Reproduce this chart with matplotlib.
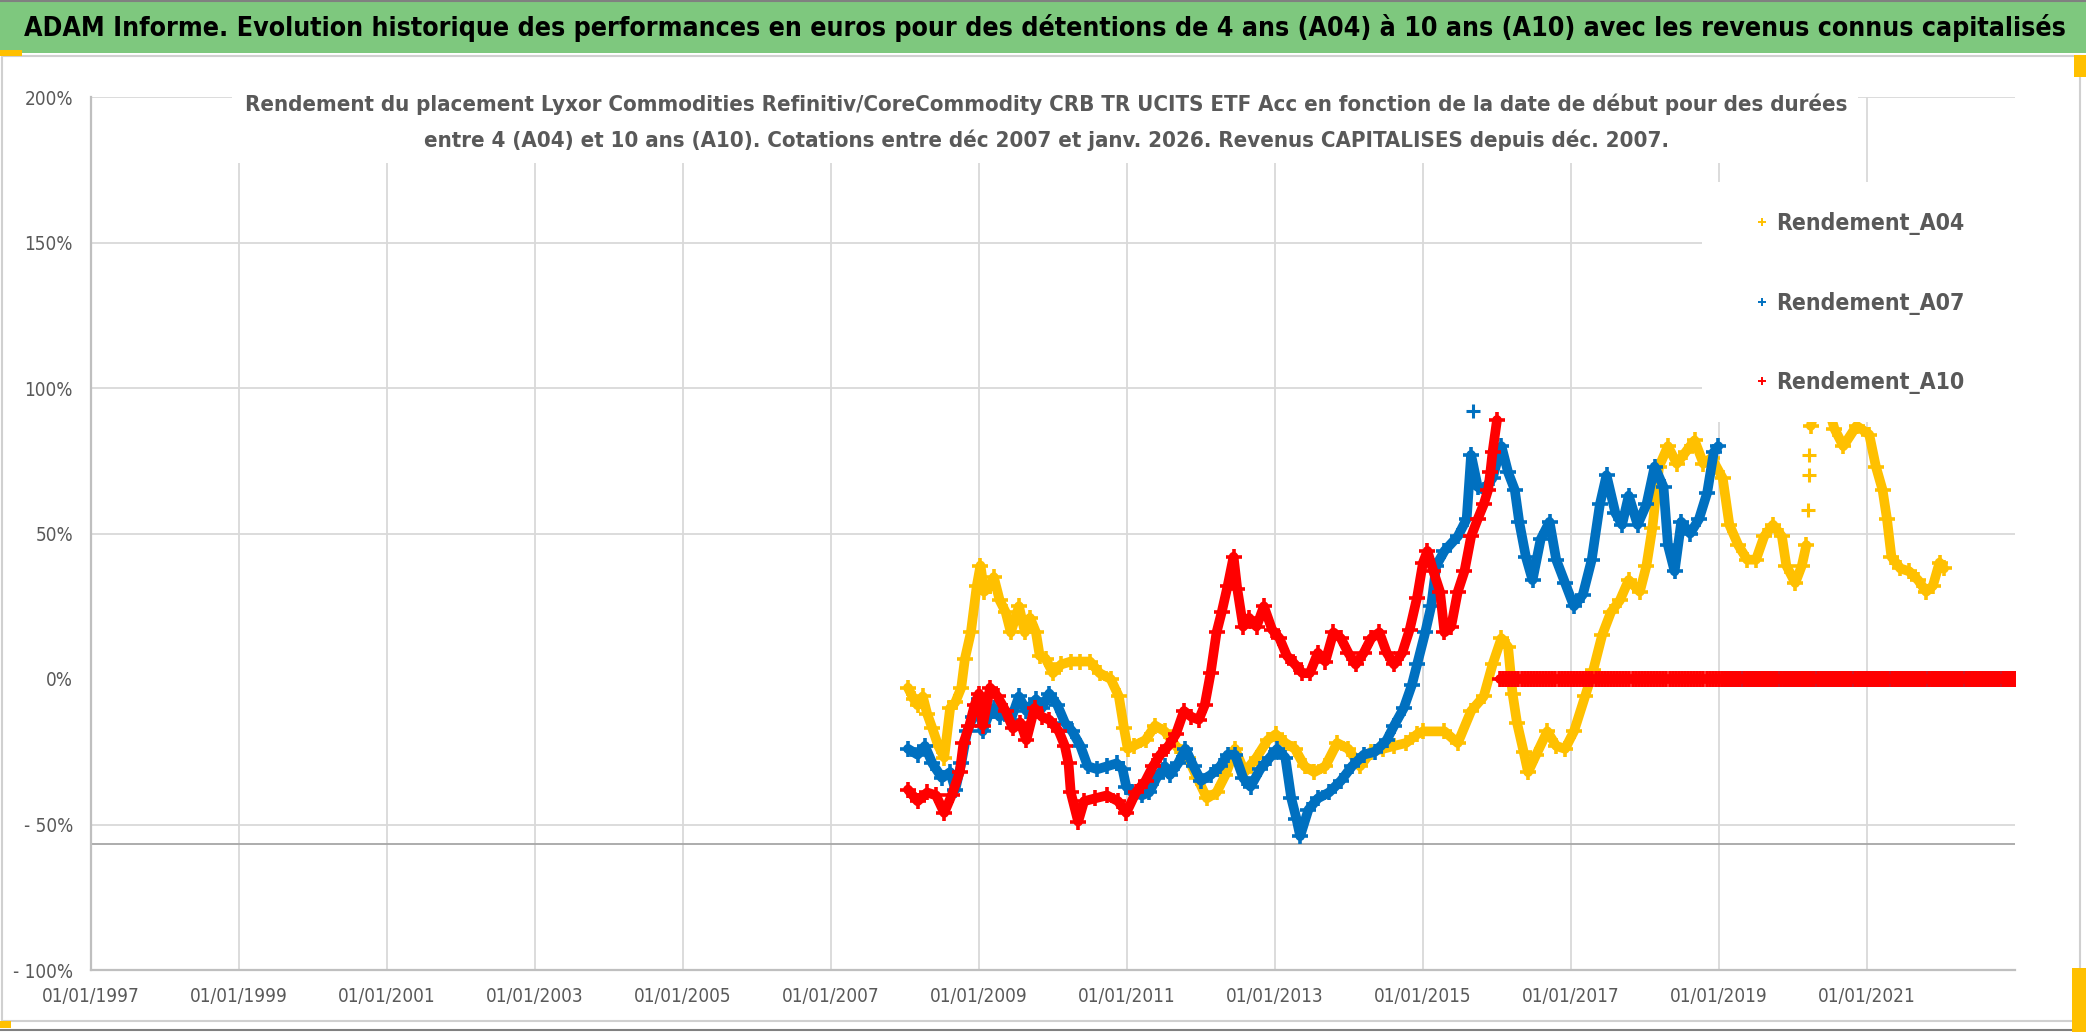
import numpy as np
import matplotlib
matplotlib.use('Agg')
import matplotlib.pyplot as plt
from matplotlib import font_manager as fm
from matplotlib.patches import Rectangle
from matplotlib.lines import Line2D

# ---- data (decimal year of start date, return in %) ----
a04_years = [2008.04, 2008.12, 2008.17, 2008.24, 2008.30, 2008.37, 2008.45, 2008.53, 2008.61, 2008.68,
             2008.76, 2008.81, 2008.89, 2008.97, 2009.02, 2009.07, 2009.15, 2009.20, 2009.28, 2009.36,
             2009.43, 2009.54, 2009.62, 2009.69, 2009.77, 2009.82, 2009.90, 2010.00, 2010.11, 2010.24,
             2010.37, 2010.50, 2010.63, 2010.78, 2010.89, 2010.96, 2011.01, 2011.09, 2011.25, 2011.38,
             2011.51, 2011.66, 2011.82, 2011.95, 2012.08, 2012.21, 2012.33, 2012.46, 2012.59, 2012.75,
             2012.90, 2013.01, 2013.14, 2013.27, 2013.40, 2013.53, 2013.68, 2013.84, 2013.99, 2014.15,
             2014.30, 2014.46, 2014.61, 2014.77, 2014.92, 2015.00, 2015.29, 2015.47, 2015.65, 2015.82,
             2015.94, 2016.06, 2016.15, 2016.21, 2016.27, 2016.36, 2016.42, 2016.53, 2016.68, 2016.80,
             2016.92, 2017.04, 2017.19, 2017.30, 2017.42, 2017.54, 2017.66, 2017.78, 2017.93, 2018.02,
             2018.10, 2018.19, 2018.31, 2018.43, 2018.55, 2018.67, 2018.79, 2018.90, 2019.05, 2019.14,
             2019.26, 2019.38, 2019.50, 2019.61, 2019.73, 2019.85, 2019.91, 2020.03, 2020.12, 2020.18]
a04_values = [-3, -7, -9, -6, -12, -17, -23, -27, -10, -8,
              -3, 7, 16, 32, 39, 30, 32, 35, 27, 23,
              16, 25, 16, 21, 16, 8, 7, 2, 5, 6,
              6, 6, 2, 0, -6, -17, -24, -23, -21, -16,
              -18, -23, -27, -34, -41, -39, -33, -24, -32, -27,
              -21, -19, -22, -24, -30, -32, -30, -22, -24, -30,
              -25, -24, -23, -22, -19, -18, -18, -22, -11, -6,
              5, 14, 11, -5, -15, -25, -32, -26, -18, -23,
              -24, -18, -6, 3, 15, 23, 27, 34, 30, 39,
              52, 73, 80, 74, 78, 82, 74, 76, 69, 53,
              46, 41, 41, 49, 53, 49, 39, 33, 39, 46]
# after a sparse jump, the band resumes high (partly behind the legend box)
a04b_years = [2020.24, 2020.32, 2020.40, 2020.48, 2020.56, 2020.68, 2020.86, 2021.03, 2021.12,
              2021.21, 2021.27, 2021.33, 2021.45, 2021.57, 2021.69, 2021.80, 2021.89, 2021.98, 2022.04]
a04b_values = [87, 95, 98, 93, 86, 80, 87, 84, 73,
               65, 55, 42, 38, 37, 34, 30, 32, 40, 38]
a04_sparse_years = [2020.20, 2020.21, 2020.22]
a04_sparse_values = [58, 70, 77]

a07_years = [2008.04, 2008.17, 2008.27, 2008.37, 2008.50, 2008.61, 2008.68, 2008.76, 2008.84, 2008.92,
             2009.00, 2009.05, 2009.12, 2009.20, 2009.28, 2009.36, 2009.43, 2009.54, 2009.64, 2009.77,
             2009.85, 2009.95, 2010.06, 2010.16, 2010.26, 2010.37, 2010.47, 2010.60, 2010.73, 2010.86,
             2010.94, 2010.99, 2011.07, 2011.20, 2011.30, 2011.40, 2011.51, 2011.58, 2011.69, 2011.79,
             2011.90, 2012.00, 2012.13, 2012.26, 2012.36, 2012.46, 2012.57, 2012.67, 2012.80, 2012.93,
             2013.03, 2013.14, 2013.22, 2013.29, 2013.34, 2013.45, 2013.58, 2013.73, 2013.89, 2014.04,
             2014.20, 2014.35, 2014.51, 2014.61, 2014.74, 2014.85, 2014.92, 2015.03, 2015.11, 2015.18,
             2015.29, 2015.47, 2015.59, 2015.65, 2015.74, 2015.82, 2015.94, 2016.06, 2016.15,
             2016.24, 2016.30, 2016.39, 2016.48, 2016.59, 2016.71, 2016.80, 2016.92, 2017.04, 2017.16,
             2017.28, 2017.39, 2017.48, 2017.60, 2017.69, 2017.78, 2017.90, 2018.02, 2018.13, 2018.25,
             2018.31, 2018.40, 2018.49, 2018.61, 2018.73, 2018.84, 2018.93, 2018.99]
a07_values = [-24, -26, -23, -29, -34, -32, -38, -29, -18, -13,
              -7, -18, -13, -10, -13, -11, -14, -6, -11, -7,
              -10, -5, -9, -15, -18, -23, -30, -31, -30, -29,
              -31, -37, -39, -40, -39, -34, -30, -33, -29, -24,
              -30, -35, -33, -30, -26, -26, -34, -37, -31, -27,
              -24, -27, -41, -48, -54, -45, -41, -39, -35, -30,
              -26, -25, -21, -16, -10, -2, 5, 16, 25, 39,
              44, 49, 55, 77, 66, 65, 69, 80, 71,
              65, 54, 42, 34, 48, 54, 41, 33, 25, 29,
              41, 60, 70, 57, 53, 63, 53, 60, 73, 66,
              46, 37, 54, 50, 55, 64, 78, 80]
# single isolated point above the A07 band
a07_outlier_years = [2015.68]
a07_outlier_values = [92]

a10_years = [2008.04, 2008.17, 2008.30, 2008.42, 2008.53, 2008.63, 2008.74, 2008.79, 2008.87, 2008.94,
             2009.00, 2009.05, 2009.15, 2009.25, 2009.36, 2009.46, 2009.56, 2009.64, 2009.75, 2009.85,
             2009.95, 2010.08, 2010.16, 2010.21, 2010.24, 2010.34, 2010.42, 2010.57, 2010.73, 2010.88,
             2010.99, 2011.12, 2011.25, 2011.35, 2011.45, 2011.56, 2011.66, 2011.77, 2011.87, 2011.97,
             2012.05, 2012.13, 2012.21, 2012.28, 2012.36, 2012.44, 2012.49, 2012.57, 2012.65, 2012.75,
             2012.85, 2012.96, 2013.06, 2013.16, 2013.27, 2013.37, 2013.47, 2013.58, 2013.68, 2013.79,
             2013.89, 2013.99, 2014.09, 2014.20, 2014.30, 2014.41, 2014.51, 2014.61, 2014.72, 2014.82,
             2014.92, 2015.00, 2015.06, 2015.14, 2015.23, 2015.29, 2015.38, 2015.47, 2015.56, 2015.65,
             2015.74, 2015.82, 2015.88, 2015.91, 2015.94, 2016.00]
a10_values = [-38, -42, -39, -40, -46, -40, -32, -22, -16, -9,
              -5, -16, -3, -6, -11, -17, -15, -21, -10, -13,
              -14, -18, -23, -29, -39, -49, -42, -41, -40, -42,
              -46, -39, -35, -30, -26, -23, -19, -11, -13, -14,
              -9, 2, 16, 23, 32, 42, 31, 18, 21, 18,
              25, 17, 14, 8, 5, 2, 2, 9, 6, 16,
              14, 9, 5, 9, 14, 16, 9, 5, 9, 17,
              28, 40, 44, 37, 30, 16, 18, 30, 37, 49,
              55, 60, 65, 71, 78, 89]

# start dates without a full holding period yet: return shown as 0
zero_start = {'A04': 2022.08, 'A07': 2019.08, 'A10': 2016.04}
zero_end = 2023.0

series_names = ['Rendement_A04', 'Rendement_A07', 'Rendement_A10']
colors = ['#FFC000', '#0070C0', '#FF0000']

x_ticks = list(range(1997, 2023, 2))
x_labels = ['01/01/%d' % y for y in x_ticks]
y_ticks = [-100, -50, 0, 50, 100, 150, 200]
y_labels = ['- 100%', '- 50%', '0%', '50%', '100%', '150%', '200%']

banner = ("ADAM Informe. Evolution historique des performances en euros pour des détentions "
          "de 4 ans (A04) à 10 ans (A10) avec les revenus connus capitalisés")
sub1 = ("Rendement du placement Lyxor Commodities Refinitiv/CoreCommodity CRB TR UCITS ETF Acc "
        "en fonction de la date de début pour des durées")
sub2 = ("entre 4 (A04) et 10 ans (A10). Cotations entre déc 2007 et janv. 2026. "
        "Revenus CAPITALISES depuis déc. 2007.")

# ---- fonts ----
entries = fm.fontManager.ttflist
names = {f.name for f in entries}
stretch = 'normal'
if 'Liberation Sans Narrow' in names:
    fam = ['Liberation Sans Narrow', 'DejaVu Sans']
elif any(f.name == 'DejaVu Sans' and f.stretch == 'condensed' for f in entries):
    fam = ['DejaVu Sans']
    stretch = 'condensed'
else:
    fam = ['Open Sans', 'DejaVu Sans']
plt.rcParams['font.family'] = fam
plt.rcParams['font.stretch'] = stretch

W, H = 2086, 1032
fig = plt.figure(figsize=(W / 100, H / 100), dpi=100)
renderer = fig.canvas.get_renderer()


def fx(x):
    return x / W


def fy(y):
    return 1 - y / H


def fit(t, width_px):
    w = t.get_window_extent(renderer).width
    t.set_fontsize(t.get_fontsize() * width_px / w)
    return t


def size_for(text, width_px, weight='normal'):
    t = fig.text(0, 0, text, fontsize=20, weight=weight)
    fit(t, width_px)
    s = t.get_fontsize()
    t.remove()
    return s


GRAY = '#595959'

# ---- frame, banner ----
fig.add_artist(Rectangle((0, fy(53)), 1, 53 / H, transform=fig.transFigure,
                         facecolor='#7EC87E', edgecolor='none', zorder=0))
fig.add_artist(Rectangle((fx(2), fy(1021)), fx(2078), (1021 - 56) / H, transform=fig.transFigure,
                         facecolor='none', edgecolor='#D0D0D0', lw=1.5, zorder=0))
fig.add_artist(Line2D([0, 1], [fy(1), fy(1)], transform=fig.transFigure, color='#808080', lw=1.5))
fig.add_artist(Line2D([0, 1], [fy(1030), fy(1030)], transform=fig.transFigure, color='#808080', lw=1.5))
for (x0, y0, w, h) in [(0, 50, 22, 6), (0, 1021, 11, 7), (2074, 55, 12, 22), (2072, 968, 14, 64)]:
    fig.add_artist(Rectangle((fx(x0), fy(y0 + h)), w / W, h / H, transform=fig.transFigure,
                             facecolor='#FFC000', edgecolor='none', zorder=3))

tb = fig.text(fx(1045), fy(28), banner, ha='center', va='center', weight='bold', color='black',
              fontsize=24)
fit(tb, 2045)

# ---- axes ----
ax = fig.add_axes([fx(91), fy(970), fx(2015 - 91), (970 - 97) / H])
ax.set_xlim(1997, 2023)
ax.set_ylim(-100, 200)

band = dict(ls='-', lw=7, marker='+', ms=12, mew=2.6, zorder=3,
            solid_joinstyle='round', solid_capstyle='round')
pts = dict(ls='none', marker='+', ms=10, mew=2.2, zorder=3)

# A04 first, then A07, then A10 on top (order of the original series)
ax.plot(a04_years, a04_values, color=colors[0], **band)
ax.plot(a04_sparse_years, a04_sparse_values, color=colors[0], **pts)
ax.plot(a04b_years, a04b_values, color=colors[0], **band)
ax.plot(a07_years, a07_values, color=colors[1], **band)
ax.plot(a07_outlier_years, a07_outlier_values, color=colors[1], **pts)
ax.plot(a10_years, a10_values, color=colors[2], **band)
for key, c in zip(['A04', 'A07', 'A10'], colors):
    zy = np.arange(zero_start[key], zero_end, 1 / 24)
    ax.plot(zy, np.zeros(len(zy)), color=c, **band)

ax.axhline(-56.6, color='#A6A6A6', lw=1.3, zorder=2)

tick_fs = size_for('01/01/1997', 98)
ax.set_xticks(x_ticks)
ax.set_xticklabels(x_labels)
ax.set_yticks(y_ticks)
ax.set_yticklabels(y_labels)
ax.tick_params(axis='x', length=0, pad=12, labelsize=tick_fs, labelcolor=GRAY)
ax.tick_params(axis='y', length=0, pad=13, labelsize=tick_fs, labelcolor=GRAY)
ax.grid(True, color='#D9D9D9', lw=1.3, zorder=1)
ax.set_axisbelow(True)
ax.yaxis.get_gridlines()[2].set_visible(False)
for s in ['top', 'right']:
    ax.spines[s].set_visible(False)
for s in ['left', 'bottom']:
    ax.spines[s].set_color('#BFBFBF')
    ax.spines[s].set_linewidth(1.6)

# ---- subtitle with white box ----
fig.add_artist(Rectangle((fx(232), fy(163)), (1858 - 232) / W, (163 - 88) / H,
                         transform=fig.transFigure, facecolor='white', edgecolor='none', zorder=1))
t1 = fig.text(fx(1046), fy(104), sub1, ha='center', va='center', weight='bold', color=GRAY,
              fontsize=18, zorder=2)
fit(t1, 1607)
fig.text(fx(1046), fy(140), sub2, ha='center', va='center', weight='bold', color=GRAY,
         fontsize=t1.get_fontsize(), zorder=2)

# ---- legend with white box ----
fig.add_artist(Rectangle((fx(1702), fy(422)), (2015 - 1702) / W, (422 - 182) / H,
                         transform=fig.transFigure, facecolor='white', edgecolor='none', zorder=1))
leg_fs = size_for('Rendement_A04', 188, weight='bold')
handles = [Line2D([], [], ls='none', marker='+', color=c, ms=6, mew=1.4) for c in colors]
fs_px = leg_fs * 100 / 72
leg = fig.legend(handles, series_names, loc='upper left',
                 bbox_to_anchor=(fx(1745), fy(201)), bbox_transform=fig.transFigure,
                 frameon=False, borderpad=0, handlelength=0.5, handletextpad=0.35,
                 labelspacing=(85 - 1.25 * fs_px) / fs_px,
                 prop={'size': leg_fs, 'weight': 'bold'})
for t in leg.get_texts():
    t.set_color(GRAY)
leg.set_zorder(4)

fig.savefig('out.png', dpi=100)
